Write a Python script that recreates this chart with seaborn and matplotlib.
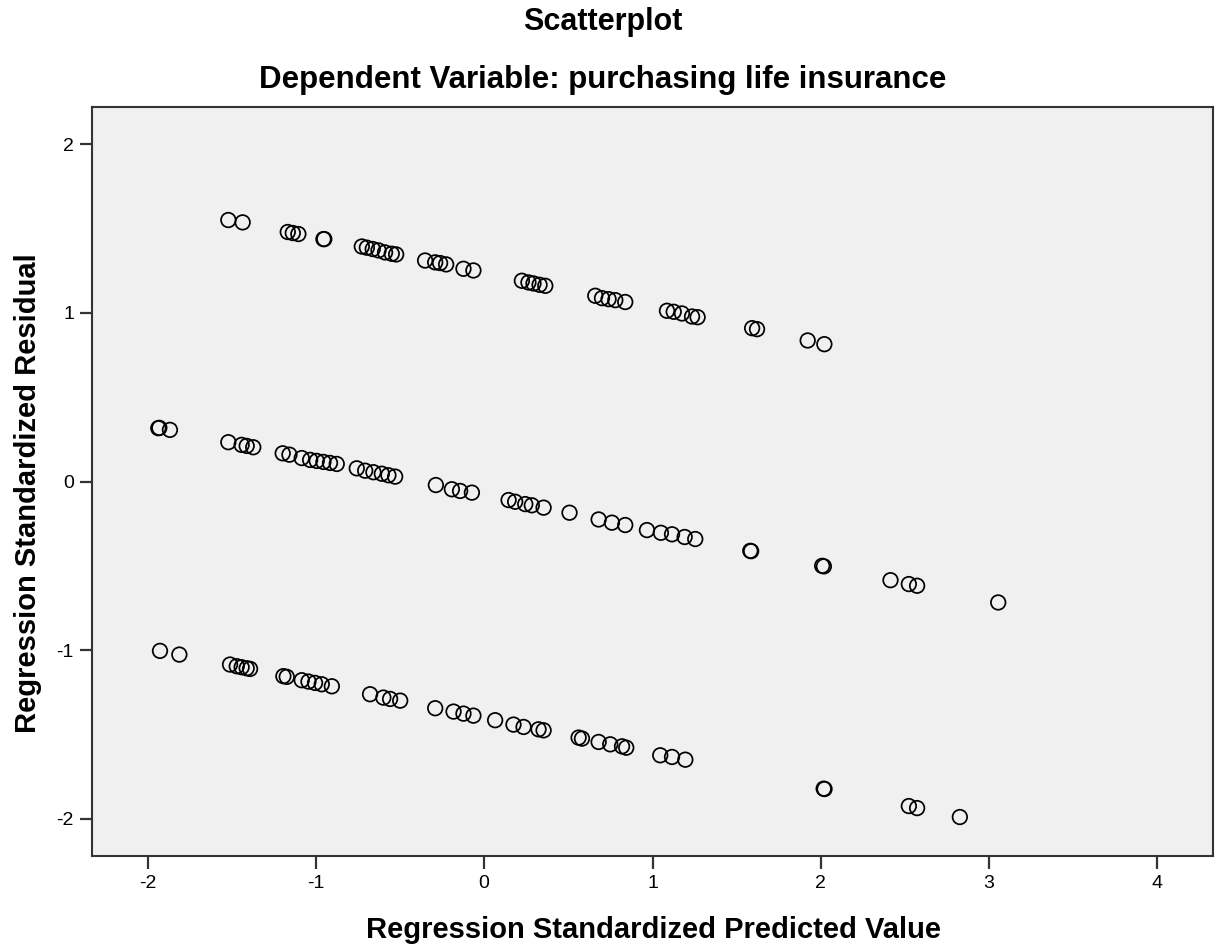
import numpy as np
import pandas as pd
import matplotlib
matplotlib.use("Agg")
import matplotlib.pyplot as plt
import seaborn as sns

# Upper band (residual ~ +1.5 .. +0.8)
upper_x = [-1.52, -1.435, -1.167, -1.137, -1.104, -0.955, -0.950, -0.727, -0.697, -0.662,
           -0.628, -0.589, -0.549, -0.523, -0.351, -0.291, -0.262, -0.226, -0.123, -0.064,
           0.224, 0.263, 0.293, 0.329, 0.363, 0.660, 0.700, 0.739, 0.779, 0.838,
           1.086, 1.126, 1.175, 1.235, 1.268, 1.592, 1.621, 1.922, 2.021]
upper_y = [1.550, 1.536, 1.479, 1.473, 1.467, 1.437, 1.437, 1.393, 1.386, 1.378,
           1.370, 1.358, 1.350, 1.346, 1.310, 1.299, 1.295, 1.287, 1.261, 1.251,
           1.190, 1.180, 1.174, 1.166, 1.160, 1.101, 1.087, 1.081, 1.075, 1.064,
           1.012, 1.006, 0.996, 0.978, 0.974, 0.909, 0.903, 0.836, 0.814]

# Middle band (residual ~ +0.3 .. -0.7)
middle_x = [-1.936, -1.930, -1.867, -1.520, -1.441, -1.411, -1.372, -1.197, -1.157, -1.084,
            -1.034, -0.995, -0.955, -0.916, -0.876, -0.757, -0.707, -0.658, -0.608, -0.569,
            -0.529, -0.287, -0.192, -0.143, -0.073, 0.145, 0.184, 0.244, 0.283, 0.353,
            0.507, 0.680, 0.759, 0.838, 0.967, 1.050, 1.116, 1.191, 1.254,
            1.581, 1.586, 2.008, 2.018, 2.414, 2.523, 2.572, 3.054]
middle_y = [0.316, 0.318, 0.306, 0.233, 0.217, 0.211, 0.203, 0.167, 0.159, 0.139,
            0.128, 0.122, 0.116, 0.110, 0.104, 0.078, 0.064, 0.055, 0.046, 0.037,
            0.029, -0.021, -0.046, -0.056, -0.066, -0.110, -0.120, -0.134, -0.141, -0.155,
            -0.185, -0.225, -0.244, -0.258, -0.288, -0.304, -0.313, -0.329, -0.341,
            -0.411, -0.413, -0.500, -0.503, -0.585, -0.608, -0.618, -0.717]

# Lower band (residual ~ -1.0 .. -2.0)
lower_x = [-1.926, -1.811, -1.510, -1.470, -1.441, -1.411, -1.391, -1.193, -1.173, -1.084,
           -1.044, -1.005, -0.965, -0.905, -0.678, -0.599, -0.559, -0.499, -0.291, -0.182,
           -0.123, -0.064, 0.065, 0.174, 0.234, 0.323, 0.353, 0.561, 0.581, 0.680,
           0.749, 0.819, 0.844, 1.046, 1.116, 1.195, 2.017, 2.022, 2.523, 2.572, 2.826]
lower_y = [-1.004, -1.026, -1.085, -1.095, -1.101, -1.107, -1.111, -1.154, -1.158, -1.178,
           -1.186, -1.194, -1.202, -1.214, -1.261, -1.281, -1.289, -1.299, -1.344, -1.364,
           -1.376, -1.388, -1.415, -1.441, -1.455, -1.469, -1.475, -1.518, -1.524, -1.544,
           -1.558, -1.570, -1.578, -1.623, -1.633, -1.649, -1.821, -1.823, -1.924, -1.936, -1.989]

x_ticks = [-2, -1, 0, 1, 2, 3, 4]
y_ticks = [-2, -1, 0, 1, 2]

df = pd.DataFrame({
    "pred": upper_x + middle_x + lower_x,
    "resid": upper_y + middle_y + lower_y,
})

sns.set_theme(style="white")
plt.rcParams['font.family'] = ['Liberation Sans', 'DejaVu Sans']
plt.rcParams['text.color'] = 'black'

fig = plt.figure(figsize=(12.17, 9.49), dpi=100)
ax = fig.add_axes([92 / 1217, 1 - 856 / 949, (1213 - 92) / 1217, (856 - 107) / 949])
ax.set_facecolor("#f0f0f0")

sns.scatterplot(data=df, x="pred", y="resid", ax=ax, marker="o", s=110,
                facecolors="none", edgecolor="black", linewidth=1.25, legend=False)

ax.set_xlim(-2.33, 4.33)
ax.set_ylim(-2.22, 2.22)
ax.set_xticks(x_ticks)
ax.set_yticks(y_ticks)
ax.set_xticklabels([str(t) for t in x_ticks])
ax.set_yticklabels([str(t) for t in y_ticks])
ax.tick_params(axis="x", direction="out", length=9, width=1.6, color="#333333",
               labelsize=14, labelcolor="black", pad=5, bottom=True)
ax.tick_params(axis="y", direction="out", length=9, width=1.6, color="#333333",
               labelsize=14, labelcolor="black", pad=4, left=True)
for sp in ax.spines.values():
    sp.set_color("#333333")
    sp.set_linewidth(1.5)

ax.set_xlabel("")
ax.set_ylabel("")
fig.text(653 / 1217, 1 - 930 / 949, "Regression Standardized Predicted Value",
         ha="center", va="center", fontsize=21, fontweight="bold", color="black")
fig.text(28 / 1217, 1 - 493 / 949, "Regression Standardized Residual",
         ha="center", va="center", rotation=90, fontsize=21, fontweight="bold", color="black")
fig.text(603 / 1217, 1 - 22 / 949, "Scatterplot",
         ha="center", va="center", fontsize=22, fontweight="bold", color="black")
fig.text(603 / 1217, 1 - 80 / 949, "Dependent Variable: purchasing life insurance",
         ha="center", va="center", fontsize=22.5, fontweight="bold", color="black")

fig.savefig("out.png", dpi=100, facecolor="white")
